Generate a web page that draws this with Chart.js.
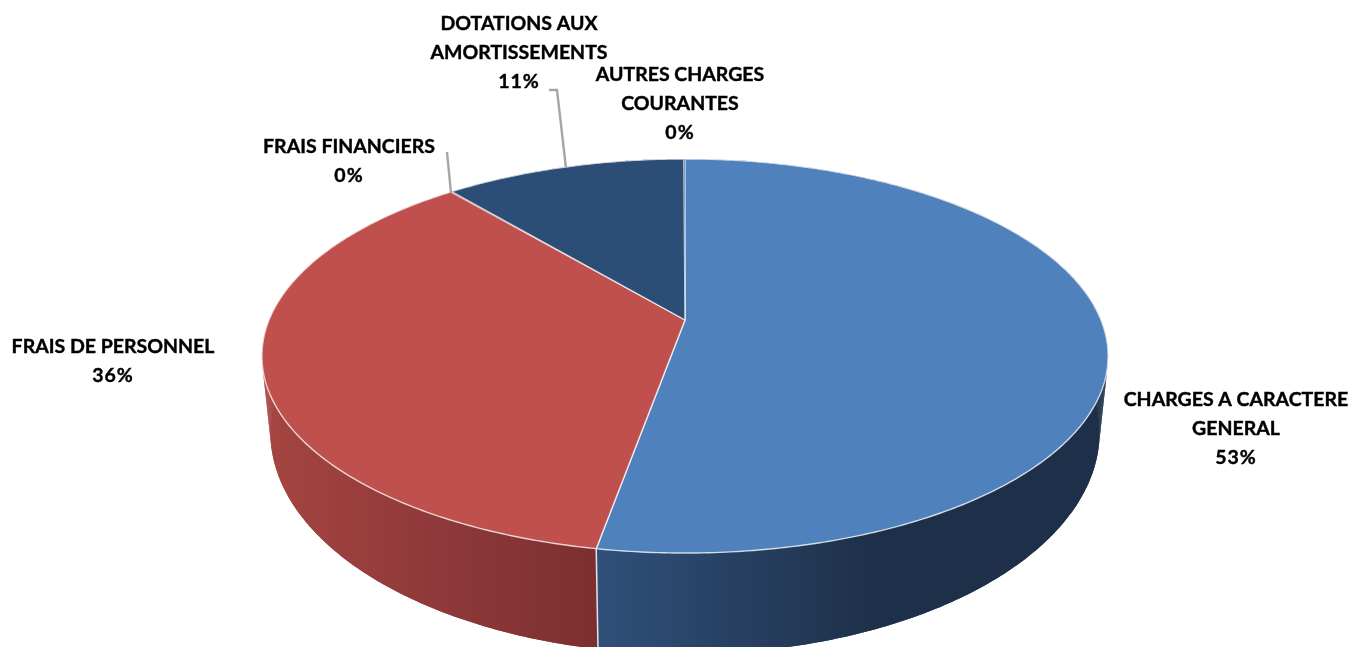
<!DOCTYPE html>
<html>
<head>
<meta charset="utf-8">
<title>Charges</title>
<script src="https://cdn.jsdelivr.net/npm/chart.js@4"></script>
<style>
    html, body { margin: 0; padding: 0; background: #fff; overflow: hidden; }
    canvas { display: block; }
</style>
</head>
<body>
<canvas id="pieChart" width="1354" height="647"></canvas>
<script>
const categories = ['CHARGES A CARACTERE GENERAL', 'FRAIS DE PERSONNEL', 'FRAIS FINANCIERS', 'DOTATIONS AUX AMORTISSEMENTS', 'AUTRES CHARGES COURANTES'];
const shares = [52.8, 36.1, 0.05, 11.0, 0.05];

const topColors = ['#4f81bd', '#c0504d', '#c0504d', '#2c4d75', '#7f9fc8'];
const sideStops = [
    [[0, '#30507a'], [0.55, '#1e3049'], [1, '#1e3049']],
    [[0, '#a54541'], [0.5, '#90393a'], [1, '#7c2f2f']],
    [[0, '#7c2f2f'], [1, '#7c2f2f']],
    [[0, '#1e3049'], [1, '#1e3049']],
    [[0, '#1e3049'], [1, '#1e3049']]
];

// label lines and where each block sits on the page
const labelBlocks = [
    { x: 1236, y: 400, lines: ['CHARGES A CARACTERE', 'GENERAL'] },
    { x: 113, y: 347, lines: ['FRAIS DE PERSONNEL'] },
    { x: 349, y: 147, lines: ['FRAIS FINANCIERS'] },
    { x: 519, y: 24, lines: ['DOTATIONS AUX', 'AMORTISSEMENTS'] },
    { x: 680, y: 75, lines: ['AUTRES CHARGES', 'COURANTES'] }
];
const leaders = [
    [[447, 152], [451, 193]],
    [[549, 90], [557, 90], [566, 168]]
];

// the pie is seen in perspective: the centre is not the middle of the ellipse
const tilt = -0.1827;
const topFace = { scaleX: 1, slope: 132, shift: 0 };
const bottomFace = { scaleX: 0.98, slope: 143, shift: 71.5 };

function project(arc, face, angle) {
    const d = 1 + tilt * Math.sin(angle);
    return {
        x: arc.x + arc.outerRadius * face.scaleX * Math.cos(angle) / d,
        y: (arc.y + face.shift + face.slope * Math.sin(angle)) / d
    };
}

function rimPoints(arc, face, from, to) {
    const pts = [];
    const steps = Math.max(2, Math.ceil((to - from) * 90));
    for (let i = 0; i <= steps; i++) {
        pts.push(project(arc, face, from + (to - from) * i / steps));
    }
    return pts;
}

function tracePoints(ctx, pts) {
    pts.forEach(function (p) {
        ctx.lineTo(p.x, p.y);
    });
}

const pie3d = {
    id: 'pie3d',
    beforeDatasetDraw: function (chart) {
        const ctx = chart.ctx;
        const arcs = chart.getDatasetMeta(0).data;

        ctx.save();
        ctx.lineJoin = 'round';

        // side wall first, the top face covers what is behind it
        arcs.forEach(function (arc, i) {
            const upper = rimPoints(arc, topFace, arc.startAngle, arc.endAngle);
            const lower = rimPoints(arc, bottomFace, arc.startAngle, arc.endAngle);
            const xs = upper.concat(lower).map(function (p) { return p.x; });
            const grad = ctx.createLinearGradient(Math.min.apply(null, xs), 0, Math.max.apply(null, xs), 0);
            sideStops[i].forEach(function (s) { grad.addColorStop(s[0], s[1]); });
            ctx.fillStyle = grad;

            ctx.beginPath();
            tracePoints(ctx, upper.concat(lower.slice().reverse()));
            ctx.closePath();
            ctx.fill();

            // the rims cross near the sides, so fill step by step to keep the outline solid
            for (let n = 0; n < upper.length - 1; n++) {
                ctx.beginPath();
                tracePoints(ctx, [upper[n], upper[n + 1], lower[n + 1], lower[n]]);
                ctx.closePath();
                ctx.fill();
            }
        });

        // white seam between the two visible walls
        const seam = arcs[0].endAngle;
        const seamTop = project(arcs[0], topFace, seam);
        const seamBottom = project(arcs[0], bottomFace, seam);
        ctx.beginPath();
        ctx.moveTo(seamTop.x, seamTop.y);
        ctx.lineTo(seamBottom.x, seamBottom.y);
        ctx.strokeStyle = 'rgba(255,255,255,0.85)';
        ctx.lineWidth = 1.5;
        ctx.stroke();

        arcs.forEach(function (arc, i) {
            ctx.beginPath();
            ctx.moveTo(arc.x, arc.y);
            tracePoints(ctx, rimPoints(arc, topFace, arc.startAngle, arc.endAngle));
            ctx.closePath();
            ctx.fillStyle = topColors[i];
            ctx.fill();
            if (shares[i] >= 1) {
                ctx.strokeStyle = 'rgba(255,255,255,0.75)';
                ctx.lineWidth = 1.4;
                ctx.stroke();
            }
        });

        ctx.restore();
        return false;
    },
    afterDraw: function (chart) {
        const ctx = chart.ctx;
        const total = shares.reduce(function (a, b) { return a + b; }, 0);

        ctx.save();
        ctx.strokeStyle = '#a6a6a6';
        ctx.lineWidth = 2.4;
        leaders.forEach(function (line) {
            ctx.beginPath();
            tracePoints(ctx, line.map(function (p) { return { x: p[0], y: p[1] }; }));
            ctx.stroke();
        });

        ctx.fillStyle = '#000';
        ctx.strokeStyle = '#000';
        ctx.lineWidth = 0.4;
        ctx.font = 'bold 19.5px Lato';
        ctx.textAlign = 'center';
        ctx.textBaseline = 'middle';
        labelBlocks.forEach(function (block, i) {
            block.lines.forEach(function (text, n) {
                ctx.fillText(text, block.x, block.y + n * 29);
                ctx.strokeText(text, block.x, block.y + n * 29);
            });
            const pct = Math.round(shares[i] / total * 100) + '%';
            const pctY = block.y + block.lines.length * 29;
            ctx.letterSpacing = '1px';
            ctx.fillText(pct, block.x, pctY);
            ctx.strokeText(pct, block.x, pctY);
            ctx.letterSpacing = '0px';
        });
        ctx.restore();
    }
};

new Chart(document.getElementById('pieChart'), {
    type: 'pie',
    data: {
        labels: categories,
        datasets: [{
            data: shares,
            backgroundColor: topColors,
            borderWidth: 0
        }]
    },
    options: {
        responsive: false,
        animation: false,
        radius: 416,
        layout: { padding: { left: 16, bottom: 7 } },
        events: [],
        plugins: {
            legend: { display: false },
            tooltip: { enabled: false }
        }
    },
    plugins: [pie3d]
});
</script>
</body>
</html>
